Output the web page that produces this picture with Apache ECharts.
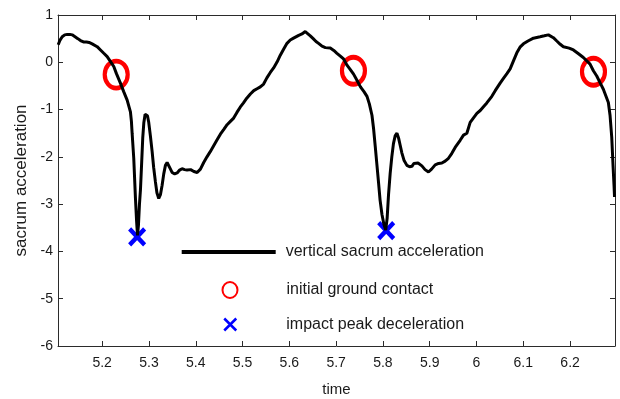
<!DOCTYPE html>
<html>
<head>
<meta charset="utf-8">
<script src="https://cdn.jsdelivr.net/npm/echarts@6.0.0/dist/echarts.min.js"></script>
<style>
  html, body { margin: 0; padding: 0; background: #fff; }
  #chart { width: 620px; height: 399px; }
</style>
</head>
<body>
<div id="chart"></div>
<script>
// time (s) and vertical sacrum acceleration
const timeVals = [
  5.106, 5.110, 5.1146, 5.120, 5.1253, 5.131, 5.1359, 5.142, 5.148, 5.1537,
  5.160, 5.1665, 5.172, 5.1786, 5.1893, 5.1964, 5.2035, 5.2107, 5.2175, 5.2248,
  5.2305, 5.239, 5.246, 5.2534, 5.2604, 5.2625, 5.264, 5.2675, 5.2711, 5.2735,
  5.2755, 5.2775, 5.2797, 5.2818, 5.2845, 5.2867, 5.289, 5.2918, 5.294, 5.2968,
  5.2995, 5.303, 5.3068, 5.310, 5.3138, 5.317, 5.3209, 5.3245, 5.3281, 5.3316,
  5.3352, 5.3388, 5.3424, 5.346, 5.3494, 5.355, 5.3602, 5.3655, 5.3708, 5.376,
  5.3815, 5.389, 5.396, 5.403, 5.410, 5.417, 5.424, 5.431, 5.438, 5.445,
  5.4526, 5.460, 5.467, 5.474, 5.481, 5.488, 5.495, 5.502, 5.509, 5.5167,
  5.524, 5.531, 5.538, 5.545, 5.552, 5.559, 5.5664, 5.574, 5.5807, 5.588,
  5.595, 5.602, 5.609, 5.6128, 5.620, 5.627, 5.634, 5.638, 5.6448, 5.651,
  5.657, 5.6625, 5.6698, 5.677, 5.6875, 5.695, 5.7018, 5.709, 5.7159, 5.7232,
  5.730, 5.7373, 5.7445, 5.752, 5.7595, 5.766, 5.771, 5.7766, 5.780, 5.7836,
  5.787, 5.7907, 5.794, 5.798, 5.802, 5.806, 5.809, 5.812, 5.8155, 5.819,
  5.8225, 5.8263, 5.830, 5.8334, 5.837, 5.8406, 5.845, 5.8513, 5.857, 5.862,
  5.866, 5.869, 5.875, 5.8833, 5.890, 5.8974, 5.904, 5.9117, 5.919, 5.926,
  5.933, 5.9401, 5.947, 5.9544, 5.9651, 5.9722, 5.9794, 5.9865, 5.994, 6.0008,
  6.008, 6.0149, 6.022, 6.0328, 6.040, 6.0505, 6.0576, 6.065, 6.0719, 6.079,
  6.0862, 6.093, 6.1003, 6.110, 6.1217, 6.1359, 6.145, 6.1537, 6.1573, 6.1643,
  6.1716, 6.179, 6.1857, 6.1893, 6.198, 6.2071, 6.218, 6.2284, 6.2427, 6.2498,
  6.257, 6.264, 6.2711, 6.2818, 6.2854, 6.289, 6.2918, 6.2939, 6.295
];
const accVals = [
  0.37, 0.47, 0.54, 0.58, 0.59, 0.59, 0.58, 0.54, 0.50, 0.46,
  0.43, 0.43, 0.42, 0.39, 0.33, 0.26, 0.19, 0.12, 0.02, -0.09,
  -0.24, -0.44, -0.62, -0.80, -1.05, -1.25, -1.50, -2.03, -2.87, -3.35,
  -3.66, -3.45, -3.00, -2.70, -2.10, -1.60, -1.28, -1.10, -1.06, -1.13,
  -1.27, -1.55, -1.89, -2.22, -2.53, -2.76, -2.88, -2.80, -2.60, -2.36,
  -2.18, -2.12, -2.16, -2.26, -2.33, -2.36, -2.34, -2.28, -2.25, -2.27,
  -2.28, -2.27, -2.31, -2.33, -2.26, -2.12, -2.00, -1.89, -1.77, -1.65,
  -1.52, -1.42, -1.32, -1.25, -1.18, -1.06, -0.95, -0.86, -0.76, -0.67,
  -0.60, -0.56, -0.52, -0.46, -0.33, -0.22, -0.12, 0.01, 0.15, 0.28,
  0.40, 0.47, 0.51, 0.54, 0.57, 0.60, 0.65, 0.63, 0.56, 0.50,
  0.44, 0.40, 0.34, 0.31, 0.30, 0.25, 0.19, 0.13, 0.07, -0.06,
  -0.15, -0.25, -0.38, -0.52, -0.62, -0.72, -0.88, -1.12, -1.40, -1.78,
  -2.15, -2.55, -2.92, -3.22, -3.42, -3.55, -3.30, -2.80, -2.35, -2.00,
  -1.72, -1.55, -1.50, -1.60, -1.76, -1.92, -2.07, -2.18, -2.21, -2.20,
  -2.14, -2.11, -2.13, -2.19, -2.27, -2.32, -2.26, -2.17, -2.14, -2.13,
  -2.09, -2.03, -1.93, -1.80, -1.65, -1.54, -1.50, -1.27, -1.17, -1.08,
  -1.02, -0.94, -0.86, -0.72, -0.60, -0.44, -0.34, -0.24, -0.14, 0.03,
  0.20, 0.32, 0.39, 0.45, 0.51, 0.54, 0.56, 0.58, 0.59, 0.52,
  0.45, 0.38, 0.33, 0.31, 0.30, 0.26, 0.18, 0.10, -0.04, -0.18,
  -0.29, -0.43, -0.57, -0.85, -1.12, -1.58, -2.18, -2.60, -2.85
];

// events
const contactTime = [5.230, 5.737, 6.250];
const contactAcc = [-0.26, -0.18, -0.20];
const peakTime = [5.2747, 5.807];
const peakAcc = [-3.69, -3.56];

// axes
const xTicks = [5.2, 5.3, 5.4, 5.5, 5.6, 5.7, 5.8, 5.9, 6, 6.1, 6.2];
const xMin = 5.1056, xMax = 6.296;
const yMin = -6, yMax = 1;

const lineName = 'vertical sacrum acceleration';
const contactName = 'initial ground contact';
const peakName = 'impact peak deceleration';

const FONT = 'Liberation Sans, Arial, Helvetica, sans-serif';
const TXT = '#1a1a1a';
const AX = '#2b2b2b';
// ring and cross drawn as stroke-only paths so they can stretch
const ringPath = 'path://M0,-1C0.552,-1 1,-0.552 1,0C1,0.552 0.552,1 0,1C-0.552,1 -1,0.552 -1,0C-1,-0.552 -0.552,-1 0,-1Z';
const crossPath = 'path://M0,0L1,1M1,0L0,1';
const barPath = 'path://M0,0L24,0L24,1L0,1Z';

const chart = echarts.init(document.getElementById('chart'));

const axisBase = {
  type: 'value',
  axisLine: { show: true, onZero: false, lineStyle: { color: AX, width: 1 } },
  axisTick: { show: true, inside: true, length: 5, lineStyle: { color: AX } },
  splitLine: { show: false }
};
const legendText = (pad) => ({ color: TXT, fontSize: 16, fontFamily: FONT, padding: [0, 0, 0, pad] });

const option = {
  animation: false,
  backgroundColor: '#fff',
  textStyle: { fontFamily: FONT },
  grid: { left: 58, right: 5, top: 15, bottom: 53, outerBoundsMode: 'none' },
  legend: [
    {
      data: [{ name: lineName, icon: barPath }], left: 176.7, top: 239, selectedMode: false,
      itemWidth: 94, itemHeight: 14,
      textStyle: legendText(5)
    },
    {
      data: [{ name: contactName }], left: 216.5, top: 276, selectedMode: false,
      itemWidth: 15, itemHeight: 16, symbolKeepAspect: false,
      itemStyle: { borderWidth: 2 },
      textStyle: legendText(44)
    },
    {
      data: [{ name: peakName }], left: 218, top: 311.5, selectedMode: false,
      itemWidth: 12, itemHeight: 12,
      itemStyle: { borderWidth: 2.5 },
      textStyle: legendText(45)
    }
  ],
  xAxis: [
    {
      ...axisBase,
      position: 'bottom', min: xMin, max: xMax,
      axisTick: { ...axisBase.axisTick, customValues: xTicks },
      axisLabel: { customValues: xTicks, color: TXT, fontSize: 14, fontFamily: FONT, margin: 10 },
      name: 'time', nameLocation: 'middle', nameGap: 36,
      nameTextStyle: { color: TXT, fontSize: 15, fontFamily: FONT }
    },
    {
      ...axisBase,
      position: 'top', min: xMin, max: xMax,
      axisTick: { ...axisBase.axisTick, customValues: xTicks },
      axisLabel: { show: false }
    }
  ],
  yAxis: [
    {
      ...axisBase,
      position: 'left', min: yMin, max: yMax, interval: 1,
      axisLabel: { color: TXT, fontSize: 14, fontFamily: FONT, margin: 5 },
      name: 'sacrum acceleration', nameLocation: 'middle', nameGap: 23,
      nameTextStyle: { color: TXT, fontSize: 17, fontFamily: FONT }
    },
    {
      ...axisBase,
      position: 'right', min: yMin, max: yMax, interval: 1,
      axisLabel: { show: false }
    }
  ],
  series: [
    {
      name: lineName,
      type: 'line',
      symbol: 'none',
      data: timeVals.map((t, i) => [t, accVals[i]]),
      lineStyle: { color: '#000', width: 3 },
      itemStyle: { color: '#000' }
    },
    {
      name: contactName,
      type: 'scatter',
      symbol: ringPath,
      symbolSize: [23, 27],
      data: contactTime.map((t, i) => [t, contactAcc[i]]),
      itemStyle: { color: 'rgba(0,0,0,0)', borderColor: '#ff0000', borderWidth: 4.5, opacity: 1 }
    },
    {
      name: peakName,
      type: 'scatter',
      symbol: crossPath,
      symbolSize: [15, 16],
      data: peakTime.map((t, i) => [t, peakAcc[i]]),
      itemStyle: { color: 'rgba(0,0,0,0)', borderColor: '#0000ff', borderWidth: 4.5, opacity: 1 }
    }
  ]
};

chart.setOption(option);
</script>
</body>
</html>
